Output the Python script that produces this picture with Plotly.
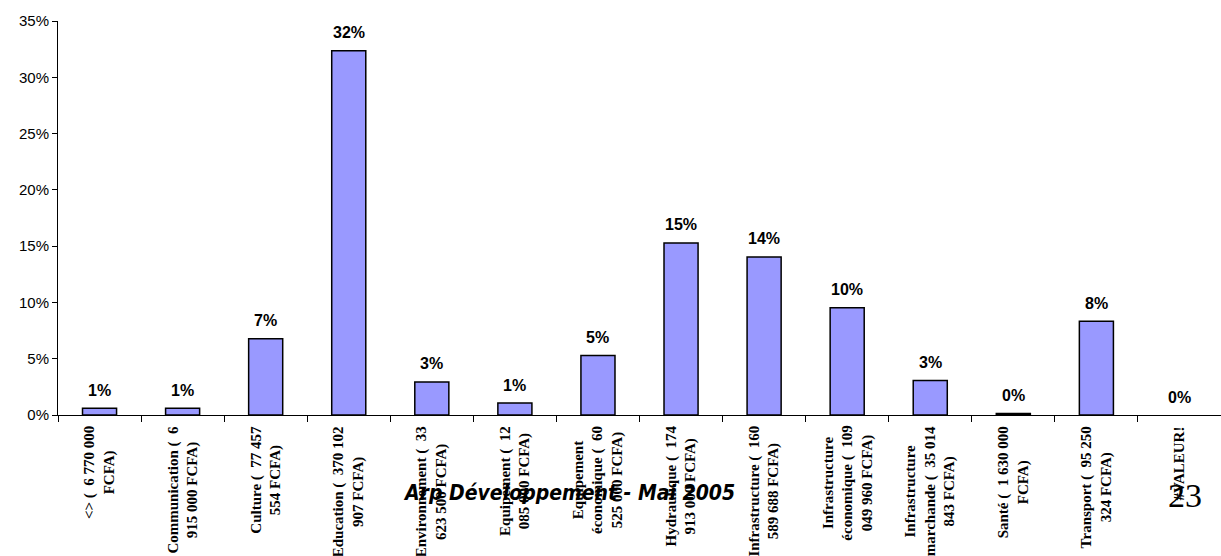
import plotly.graph_objects as go

NB = "\u00a0"  # wide gap after the opening parenthesis

# Share of total budget per domain
categories = [
    f"&lt;&gt; ( {NB}6 770 000<br>FCFA)",
    f"Communication ( {NB}6<br>915 000 FCFA)",
    f"Culture ( {NB}77 457<br>554 FCFA)",
    f"Education ( {NB}370 102<br>907 FCFA)",
    f"Environnement ( {NB}33<br>623 500 FCFA)",
    f"Equipement ( {NB}12<br>085 000 FCFA)",
    f"Equipement<br>économique ( {NB}60<br>525 000 FCFA)",
    f"Hydraulique ( {NB}174<br>913 000 FCFA)",
    f"Infrastructure ( {NB}160<br>589 688 FCFA)",
    f"Infrastructure<br>économique ( {NB}109<br>049 960 FCFA)",
    f"Infrastructure<br>marchande ( {NB}35 014<br>843 FCFA)",
    f"Santé ( {NB}1 630 000<br>FCFA)",
    f"Transport ( {NB}95 250<br>324 FCFA)",
    "#VALEUR!",
]
shares = [0.0059, 0.0060, 0.0677, 0.3235, 0.0294, 0.0106, 0.0529,
          0.1529, 0.1404, 0.0953, 0.0306, 0.0014, 0.0833, 0.0]
y_ticks = [0, 0.05, 0.10, 0.15, 0.20, 0.25, 0.30, 0.35]

keys = [f"c{i}" for i in range(len(categories))]

# Pixel geometry of the plot area (used to place footer text)
W, H = 1221, 556
M_L, M_R, M_T, M_B = 58, 0, 21, 141
plot_w = W - M_L - M_R
plot_h = H - M_T - M_B


def px_to_paper(px, py):
    return (px - M_L) / plot_w, (H - M_B - py) / plot_h


fig = go.Figure()
fig.add_trace(go.Bar(
    x=keys, y=shares,
    marker=dict(
        color="#9999FF",
        line=dict(color="#000000", width=[1.5 if v > 0 else 0 for v in shares]),
    ),
    width=0.41,
    hoverinfo="skip",
))

annotations = []
for k, v in zip(keys, shares):
    annotations.append(dict(
        x=k, y=v, xref="x", yref="y", text=f"<b>{v:.0%}</b>",
        showarrow=False, yanchor="middle", yshift=18,
        font=dict(family="Liberation Sans, Arial", size=16, color="#000000"),
    ))
for k, label in zip(keys, categories):
    annotations.append(dict(
        x=k, y=0, xref="x", yref="paper", text=f"<b>{label}</b>",
        showarrow=False, textangle=-90, yanchor="top", xanchor="center",
        align="center", yshift=-9,
        font=dict(family="Liberation Serif, Times New Roman", size=15, color="#000000"),
    ))

wx, wy = px_to_paper(569, 493)
annotations.append(dict(
    x=wx, y=wy, xref="paper", yref="paper",
    text="<b><i>Arp Développement - Mai 2005</i></b>",
    showarrow=False, xanchor="center", yanchor="middle",
    font=dict(family="DejaVu Sans Condensed", size=21, color="#000000"),
))
px_, py_ = px_to_paper(1185, 495)
annotations.append(dict(
    x=px_, y=py_, xref="paper", yref="paper", text="23",
    showarrow=False, xanchor="center", yanchor="middle",
    font=dict(family="Liberation Serif, Times New Roman", size=34, color="#000000"),
))

fig.update_layout(
    width=W, height=H,
    margin=dict(l=M_L, r=M_R, t=M_T, b=M_B),
    paper_bgcolor="#FFFFFF", plot_bgcolor="#FFFFFF",
    showlegend=False,
    xaxis=dict(
        type="category", categoryorder="array", categoryarray=keys,
        showticklabels=False, tickson="boundaries",
        ticks="outside", ticklen=6, tickcolor="#000000", tickwidth=1,
        showline=True, linecolor="#000000", linewidth=1,
        showgrid=False, zeroline=False,
    ),
    yaxis=dict(
        range=[0, 0.35], tickvals=y_ticks, tickformat=".0%",
        ticks="outside", ticklen=5, tickcolor="#000000", tickwidth=1,
        showline=True, linecolor="#000000", linewidth=1,
        showgrid=False, zeroline=False,
        tickfont=dict(family="Liberation Sans, Arial", size=15, color="#000000"),
    ),
    annotations=annotations,
)

fig.write_html("out.html")
